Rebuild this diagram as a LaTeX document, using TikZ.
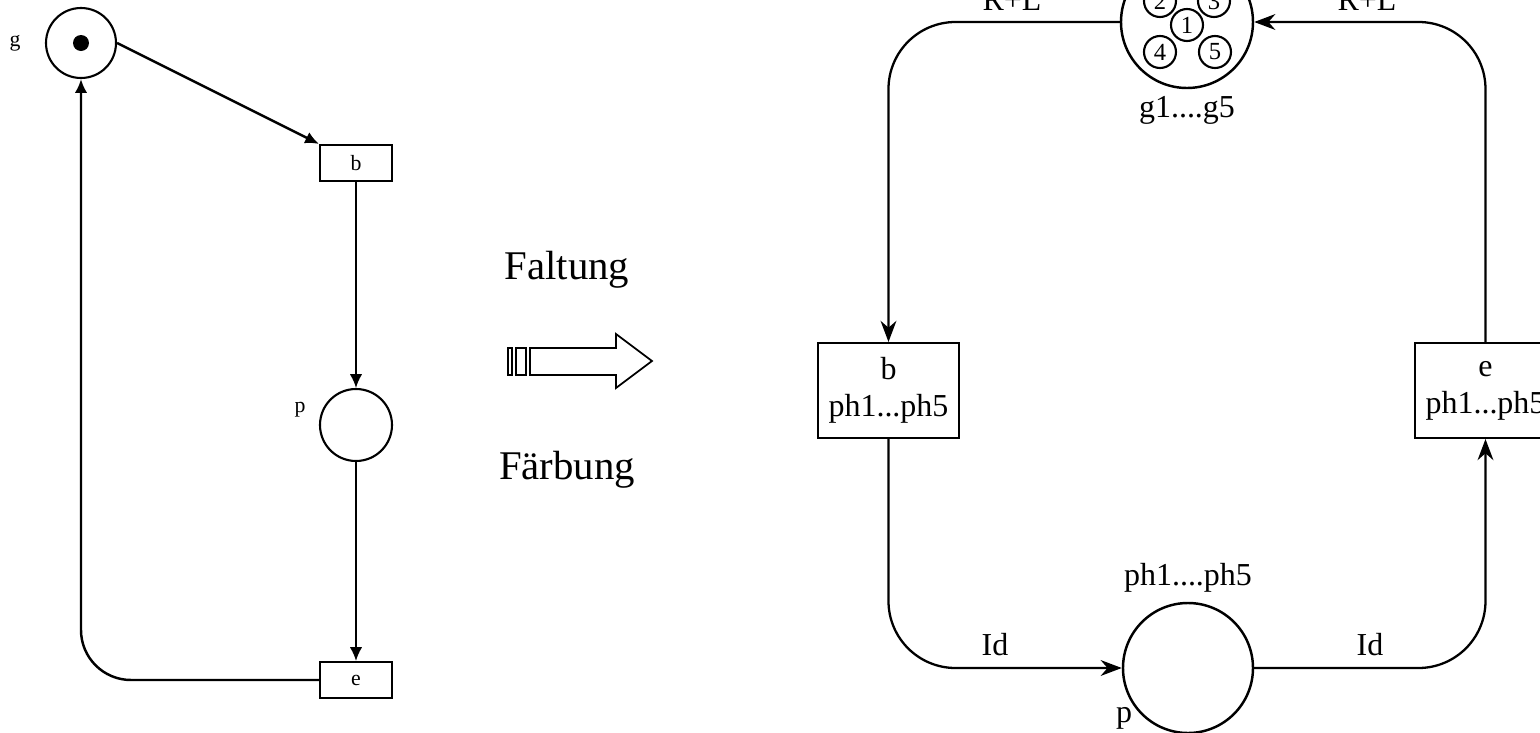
\documentclass[tikz,border=0pt]{standalone}
\usepackage{fontspec}
\setmainfont{Liberation Serif}
\usetikzlibrary{arrows.meta}
\begin{document}
\begin{tikzpicture}[
  place/.style={draw, circle, inner sep=0pt},
  trans/.style={draw, rectangle, inner sep=0pt, align=center},
  tiny/.style={font=\fontsize{6.2}{7}\selectfont},
  lbl/.style={font=\fontsize{9.1}{10.6}\selectfont},
  big/.style={font=\fontsize{11.6}{13}\selectfont},
  arcL/.style={line width=0.45pt, -{Latex[length=3.9pt,width=3.5pt]}},
  arcR/.style={line width=0.65pt, rounded corners=0.67cm, -{Stealth[length=6pt,width=4.5pt]}}]
  \useasboundingbox (0,0) rectangle (15.4,-7.33);

  % unfolded net
  \node[place, line width=0.6pt, minimum size=0.70cm] (lg) at (0.81,-0.43) {};
  \fill (lg) circle (0.08);
  \node[trans, line width=0.6pt, minimum width=0.72cm, minimum height=0.36cm, tiny] (lb) at (3.56,-1.63) {b};
  \node[place, line width=0.6pt, minimum size=0.72cm] (lp) at (3.56,-4.25) {};
  \node[trans, line width=0.6pt, minimum width=0.72cm, minimum height=0.36cm, tiny] (le) at (3.56,-6.80) {e};
  \node[tiny] (lgl) at (0.15,-0.43) {g};
  \node[tiny] (lpl) at (3.00,-4.10) {p};
  \draw[arcL, line width=0.7pt] (lg.east) -- (lb.north west);
  \draw[arcL] (lb) -- (lp);
  \draw[arcL] (lp) -- (le);
  \draw[arcL, line width=0.7pt, rounded corners=0.5cm] (le.west) -| (lg.south);

  % folding arrow
  \node[big] (falt) at (5.67,-2.70) {Faltung};
  \node[big] (faerb) at (5.67,-4.70) {Färbung};
  \draw[line width=0.5pt] (5.08,-3.48) rectangle (5.12,-3.75);
  \draw[line width=0.5pt] (5.16,-3.48) rectangle (5.26,-3.75);
  \draw[line width=0.5pt] (5.30,-3.48) -- (6.16,-3.48) -- (6.16,-3.34) -- (6.52,-3.61)
    -- (6.16,-3.88) -- (6.16,-3.75) -- (5.30,-3.75) -- cycle;

  % coloured net
  \node[place, line width=0.7pt, minimum size=1.32cm] (rg) at (11.87,-0.22) {};
  \foreach \n/\x/\y in {1/11.87/-0.25, 2/11.60/-0.01, 3/12.14/-0.01, 4/11.60/-0.52, 5/12.15/-0.52}
    \node[place, line width=0.6pt, minimum size=0.32cm, font=\fontsize{7}{8}\selectfont] (tok\n) at (\x,\y) {\n};
  \node[trans, line width=0.6pt, minimum width=1.41cm, minimum height=0.95cm, lbl] (rb) at (8.885,-3.905) {b\\ph1...ph5};
  \node[place, line width=0.7pt, minimum size=1.30cm] (rp) at (11.88,-6.68) {};
  \node[trans, line width=0.6pt, minimum width=1.41cm, minimum height=0.95cm, lbl] (re) at (14.855,-3.905) {e\\ph1...ph5};
  \node[lbl] (rgl) at (11.87,-1.10) {g1....g5};
  \node[lbl] (rpl) at (11.88,-5.78) {ph1....ph5};
  \node[lbl] (rplp) at (11.24,-7.18) {p};

  \draw[arcR] (rg.west) -| (rb.north);
  \draw[arcR] (rb.south) |- (rp.west);
  \draw[arcR] (rp.east) -| (re.south);
  \draw[arcR] (re.north) |- (rg.east);
  \node[lbl, anchor=south] (rl1) at (10.12,-0.23) {R+L};
  \node[lbl, anchor=south] (rl2) at (13.67,-0.23) {R+L};
  \node[lbl, anchor=south] (id1) at (9.95,-6.68) {Id};
  \node[lbl, anchor=south] (id2) at (13.70,-6.68) {Id};
\end{tikzpicture}
\end{document}
